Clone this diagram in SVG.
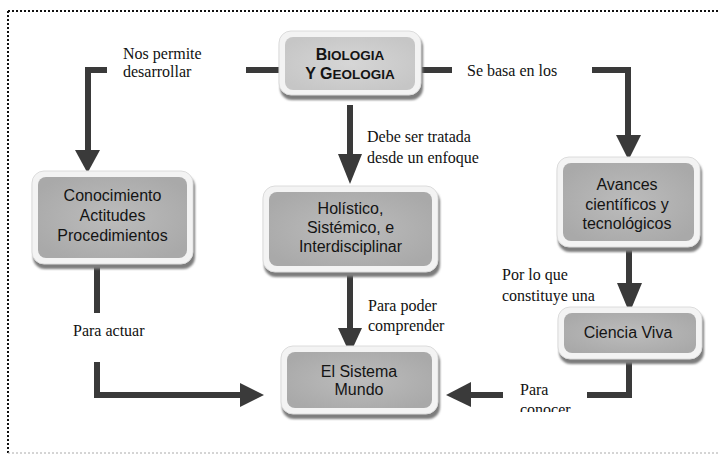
<svg xmlns="http://www.w3.org/2000/svg" width="719" height="455" viewBox="0 0 719 455">
<defs>
<style>
.frame{fill:#f3f3f3;stroke:#dcdcdc;stroke-width:1}
.shadow{fill:#7d7d7d;filter:url(#blur)}
.fill{fill:url(#g1)}
.fillb{fill:url(#g2)}
.nt{font-family:"Liberation Sans",Arial,sans-serif;font-size:16px;fill:#141414;text-anchor:middle}
.bt{font-family:"Liberation Sans",Arial,sans-serif;font-weight:bold;fill:#141414;text-anchor:middle}
.lbl{font-family:"Liberation Serif","Times New Roman",serif;font-size:16px;fill:#111}
.ln{fill:none;stroke:#3a3a3a;stroke-width:6}
.ah{fill:#3a3a3a}
</style>
<radialGradient id="g1" cx="50%" cy="50%" r="60%">
<stop offset="0" stop-color="#bcbcbc"/>
<stop offset="1" stop-color="#a9a9a9"/>
</radialGradient>
<radialGradient id="g2" cx="50%" cy="50%" r="60%">
<stop offset="0" stop-color="#d6d6d6"/>
<stop offset="1" stop-color="#c6c6c6"/>
</radialGradient>
<filter id="blur" x="-10%" y="-10%" width="120%" height="130%"><feGaussianBlur stdDeviation="1.2"/></filter>
<clipPath id="clipc"><rect x="500" y="380" width="150" height="32"/></clipPath>
</defs>

<g id="border">
<path d="M8,11 H719" fill="none" stroke="#111" stroke-width="2" stroke-dasharray="2 2"/>
<path d="M8,11 V453" fill="none" stroke="#111" stroke-width="2" stroke-dasharray="2 2"/>
<path d="M8,453 H719" fill="none" stroke="#aaa" stroke-width="1" stroke-dasharray="2 2"/>
</g>

<g id="connectors">
<path class="ln" d="M246,70 H280"/>
<path class="ln" d="M107,70 H88 V152"/>
<polygon class="ah" points="75,150 100,150 87.5,173"/>
<path class="ln" d="M420,70 H452"/>
<path class="ln" d="M592,70 H628 V137"/>
<polygon class="ah" points="616,135 641,135 628.5,160"/>
<path class="ln" d="M350,105 V156"/>
<polygon class="ah" points="338,154 362,154 350,184"/>
<path class="ln" d="M350,272 V330"/>
<polygon class="ah" points="338,328 362,328 350,354"/>
<path class="ln" d="M97,263 V313"/>
<path class="ln" d="M97,362 V395 H242"/>
<polygon class="ah" points="240,383 240,407 264,395"/>
<path class="ln" d="M629,248 V285"/>
<polygon class="ah" points="617,283 642,283 629.5,313"/>
<path class="ln" d="M629,360 V395 H587"/>
<path class="ln" d="M503,395 H468"/>
<polygon class="ah" points="471,382 471,407 446,395"/>
</g>

<g id="labels">
<text class="lbl" x="123" y="59">Nos permite</text>
<text class="lbl" x="123" y="77">desarrollar</text>
<text class="lbl" x="467" y="76">Se basa en los</text>
<text class="lbl" x="367" y="142">Debe ser tratada</text>
<text class="lbl" x="367" y="163">desde un enfoque</text>
<text class="lbl" x="502" y="280">Por lo que</text>
<text class="lbl" x="502" y="301">constituye una</text>
<text class="lbl" x="368" y="311">Para poder</text>
<text class="lbl" x="368" y="331">comprender</text>
<text class="lbl" x="73" y="336">Para actuar</text>
<text class="lbl" x="520" y="395">Para</text>
<text class="lbl" x="520" y="415" clip-path="url(#clipc)">conocer</text>
</g>

<g id="n-biologia">
<rect class="shadow" x="280" y="35" width="143" height="65" rx="12"/>
<rect class="frame" x="279" y="31" width="142" height="64" rx="12"/>
<rect class="fillb" x="285" y="37" width="130" height="53" rx="8"/>
<text class="bt" x="350" y="60"><tspan font-size="16">B</tspan><tspan font-size="13.5">IOLOGIA</tspan></text>
<text class="bt" x="350" y="79"><tspan font-size="16">Y </tspan><tspan font-size="16">G</tspan><tspan font-size="13.5">EOLOGIA</tspan></text>
</g>

<g id="n-conocimiento">
<rect class="shadow" x="33" y="175" width="162" height="94" rx="12"/>
<rect class="frame" x="32" y="171" width="161" height="93" rx="12"/>
<rect class="fill" x="38" y="177" width="149" height="81" rx="8"/>
<text class="nt" x="112.5" y="201">Conocimiento</text>
<text class="nt" x="112.5" y="221">Actitudes</text>
<text class="nt" x="112.5" y="241">Procedimientos</text>
</g>

<g id="n-holistico">
<rect class="shadow" x="264" y="190" width="176" height="87" rx="12"/>
<rect class="frame" x="263" y="186" width="175" height="86" rx="12"/>
<rect class="fill" x="269" y="192" width="163" height="74" rx="8"/>
<text class="nt" x="350.5" y="214">Holístico,</text>
<text class="nt" x="350.5" y="233">Sistémico, e</text>
<text class="nt" x="350.5" y="252">Interdisciplinar</text>
</g>

<g id="n-avances">
<rect class="shadow" x="558" y="161" width="144" height="91" rx="12"/>
<rect class="frame" x="557" y="157" width="143" height="90" rx="12"/>
<rect class="fill" x="563" y="163" width="131" height="78" rx="8"/>
<text class="nt" x="627" y="190">Avances</text>
<text class="nt" x="627" y="210">científicos y</text>
<text class="nt" x="627" y="229">tecnológicos</text>
</g>

<g id="n-ciencia">
<rect class="shadow" x="559" y="311" width="145" height="53" rx="12"/>
<rect class="frame" x="558" y="307" width="144" height="52" rx="12"/>
<rect class="fill" x="564" y="313" width="132" height="40" rx="8"/>
<text class="nt" x="628" y="338">Ciencia Viva</text>
</g>

<g id="n-sistema">
<rect class="shadow" x="282" y="350" width="158" height="69" rx="12"/>
<rect class="frame" x="281" y="346" width="157" height="68" rx="12"/>
<rect class="fill" x="287" y="352" width="145" height="56" rx="8"/>
<text class="nt" x="359" y="377">El Sistema</text>
<text class="nt" x="359" y="395">Mundo</text>
</g>
</svg>
